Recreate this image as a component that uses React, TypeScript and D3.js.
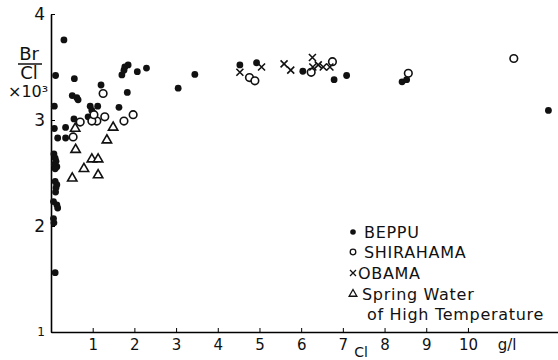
import React, { useEffect, useRef } from 'react';
import * as d3 from 'd3';

// Cl (g/l) , Br/Cl x10^3
const beppu: [number, number][] = [
  [0.31, 3.755], [0.11, 3.42], [0.56, 3.39], [1.70, 3.425], [1.75, 3.47],
  [1.85, 3.52], [1.77, 3.50], [2.07, 3.456], [2.29, 3.49], [1.20, 3.33],
  [0.51, 3.23], [0.62, 3.21], [0.65, 3.19], [1.83, 3.26], [0.08, 3.13],
  [0.94, 3.13], [0.98, 3.09], [1.12, 3.13], [1.63, 3.12], [0.89, 3.03],
  [1.04, 3.05], [0.55, 3.01], [0.35, 2.93], [0.08, 2.92], [0.16, 2.83],
  [0.35, 2.83], [0.07, 2.68], [0.10, 2.64], [0.12, 2.61], [0.08, 2.58],
  [0.14, 2.56], [0.10, 2.54], [0.10, 2.42], [0.14, 2.39], [0.12, 2.36],
  [0.11, 2.32], [0.06, 2.23], [0.14, 2.20], [0.16, 2.17], [0.06, 2.07],
  [0.07, 2.03], [0.10, 1.56], [3.45, 3.43], [3.05, 3.30], [4.53, 3.52],
  [4.93, 3.54], [6.04, 3.46], [6.79, 3.38], [7.09, 3.42], [8.42, 3.36],
  [8.53, 3.38], [11.93, 3.09],
];

const shirahama: [number, number][] = [
  [1.25, 3.25], [1.97, 3.05], [1.75, 2.99], [1.29, 3.03], [1.10, 2.99],
  [0.98, 2.99], [0.70, 2.98], [1.03, 3.05], [0.53, 2.84], [4.76, 3.40],
  [4.89, 3.37], [6.75, 3.55], [6.24, 3.45], [8.57, 3.44], [11.10, 3.58],
];

const obama: [number, number][] = [
  [4.53, 3.45], [5.05, 3.50], [5.59, 3.53], [5.75, 3.47], [6.27, 3.59],
  [6.28, 3.50], [6.41, 3.52], [6.53, 3.50], [6.69, 3.50],
];

const springWater: [number, number][] = [
  [1.49, 2.93], [0.58, 2.92], [1.34, 2.81], [0.59, 2.72], [0.98, 2.63],
  [1.13, 2.63], [0.79, 2.54], [1.13, 2.48], [0.51, 2.45],
];

const xTicks = [1, 2, 3, 4, 5, 6, 7, 8, 9, 10];
const yTicks = [1, 2, 3, 4];
const legendLabels = ['BEPPU', 'SHIRAHAMA', 'OBAMA', 'Spring Water'];

const W = 558;
const H = 360;
const font = '"DejaVu Sans", sans-serif';

export default function App() {
  const ref = useRef<SVGSVGElement>(null);

  useEffect(() => {
    const svg = d3.select(ref.current);
    svg.selectAll('*').remove();

    const x = d3.scaleLinear().domain([0, 12.16]).range([51, 558]);
    const y = d3.scaleLinear().domain([1, 4]).range([332, 14]);

    // axes
    const xAxis = svg.append('g')
      .attr('transform', 'translate(0,332)')
      .call(d3.axisBottom(x).tickValues(xTicks).tickFormat(d3.format('d')).tickSize(-4).tickSizeOuter(0).tickPadding(7));
    xAxis.select('.domain').attr('stroke-width', 1.6);
    xAxis.selectAll('text').attr('font-family', font).attr('font-size', 15).attr('fill', '#111');

    const yAxis = svg.append('g')
      .attr('transform', 'translate(51,0)')
      .call(d3.axisLeft(y).tickValues(yTicks).tickFormat(d3.format('d')).tickSize(-4).tickSizeOuter(0).tickPadding(6));
    yAxis.select('.domain').attr('stroke-width', 1.6);
    yAxis.selectAll('text').attr('font-family', font).attr('font-size', 17).attr('fill', '#111');
    yAxis.selectAll('.tick').filter((d: any) => d === 1).select('text').attr('font-size', 12);

    // axis titles
    const t = svg.append('g').attr('font-family', font).attr('fill', '#111');
    t.append('text').attr('x', 29).attr('y', 60).attr('text-anchor', 'middle').attr('font-size', 18).text('Br');
    t.append('line').attr('x1', 18).attr('x2', 42).attr('y1', 64).attr('y2', 64).attr('stroke', '#111').attr('stroke-width', 1.5);
    t.append('text').attr('x', 29).attr('y', 79).attr('text-anchor', 'middle').attr('font-size', 18).text('Cl');
    t.append('text').attr('x', 8).attr('y', 97).attr('font-size', 16).text('×10³');
    t.append('text').attr('x', 361).attr('y', 357).attr('text-anchor', 'middle').attr('font-size', 14).text('Cl');
    t.append('text').attr('x', 507).attr('y', 350).attr('text-anchor', 'middle').attr('font-size', 15).text('g/l');

    // marks
    const marks = svg.append('g').attr('stroke', '#111').attr('fill', 'none');
    marks.selectAll('circle.b').data(beppu).enter().append('circle')
      .attr('cx', d => x(d[0])).attr('cy', d => y(d[1])).attr('r', 3.4)
      .attr('fill', '#111').attr('stroke', 'none');
    marks.selectAll('circle.s').data(shirahama).enter().append('circle')
      .attr('cx', d => x(d[0])).attr('cy', d => y(d[1])).attr('r', 3.8)
      .attr('fill', 'white').attr('stroke-width', 1.6);
    const cross = 'M-3.5,-3.5L3.5,3.5M-3.5,3.5L3.5,-3.5';
    marks.selectAll('path.o').data(obama).enter().append('path')
      .attr('transform', d => `translate(${x(d[0])},${y(d[1])})`)
      .attr('d', cross).attr('stroke-width', 1.6);
    const tri = d3.symbol().type(d3.symbolTriangle).size(38);
    marks.selectAll('path.t').data(springWater).enter().append('path')
      .attr('transform', d => `translate(${x(d[0])},${y(d[1])})`)
      .attr('d', tri()).attr('stroke-width', 1.6).attr('fill', 'white');

    // legend
    const lg = svg.append('g').attr('font-family', font).attr('font-size', 16)
      .attr('letter-spacing', 0.7).attr('fill', '#111');
    const ly = [232, 252, 273, 294];
    lg.append('circle').attr('cx', 353).attr('cy', ly[0]).attr('r', 2.8).attr('fill', '#111');
    lg.append('circle').attr('cx', 353).attr('cy', ly[1]).attr('r', 2.8).attr('fill', 'none').attr('stroke', '#111').attr('stroke-width', 1.3);
    lg.append('path').attr('transform', `translate(353,${ly[2]})`).attr('d', 'M-3,-3L3,3M-3,3L3,-3').attr('stroke', '#111').attr('stroke-width', 1.3);
    lg.append('path').attr('transform', `translate(353,${ly[3]})`).attr('d', d3.symbol().type(d3.symbolTriangle).size(26)()).attr('fill', 'none').attr('stroke', '#111').attr('stroke-width', 1.3);
    const lx = [364, 364, 358, 362];
    legendLabels.forEach((s, i) => {
      lg.append('text').attr('x', lx[i]).attr('y', ly[i] + 6).text(s);
    });
    lg.append('text').attr('x', 367).attr('y', 320).text('of High Temperature');
  }, []);

  return (
    <svg ref={ref} width={W} height={H} style={{ position: 'absolute', left: 0, top: 0, background: 'white' }} />
  );
}
